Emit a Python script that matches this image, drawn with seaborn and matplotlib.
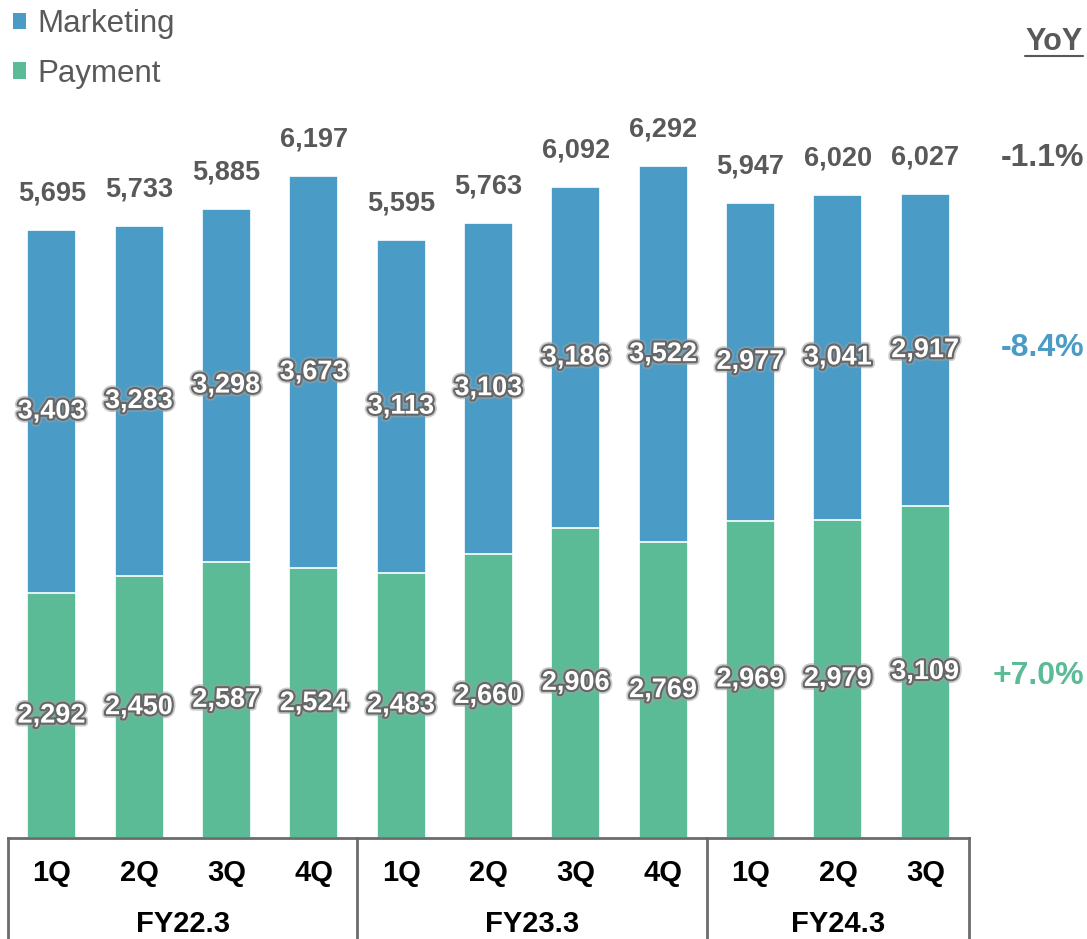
import matplotlib
matplotlib.use("Agg")
import matplotlib.pyplot as plt
import matplotlib.patheffects as pe
from matplotlib.patches import Patch
import seaborn as sns
import pandas as pd

# Quarterly revenue by segment
fiscal_years = ["FY22.3", "FY23.3", "FY24.3"]
quarters = ["1Q", "2Q", "3Q", "4Q", "1Q", "2Q", "3Q", "4Q", "1Q", "2Q", "3Q"]
year_of_quarter = ["FY22.3"] * 4 + ["FY23.3"] * 4 + ["FY24.3"] * 3
total = [5695, 5733, 5885, 6197, 5595, 5763, 6092, 6292, 5947, 6020, 6027]
marketing = [3403, 3283, 3298, 3673, 3113, 3103, 3186, 3522, 2977, 3041, 2917]
payment = [2292, 2450, 2587, 2524, 2483, 2660, 2906, 2769, 2969, 2979, 3109]
yoy_total = "-1.1%"
yoy_marketing = "-8.4%"
yoy_payment = "+7.0%"

BLUE = "#4A9CC7"
GREEN = "#5BBB97"
GREY = "#595959"

sns.set_style("white")
plt.rcParams["font.family"] = ["Liberation Sans", "DejaVu Sans"]

df = pd.DataFrame({
    "period": [f"{y} {q}" for y, q in zip(year_of_quarter, quarters)],
    "total": total,
    "marketing": marketing,
    "payment": payment,
})

fig = plt.figure(figsize=(10.87, 9.39), dpi=100)
ax = fig.add_axes([8 / 1087, 101 / 939, 961 / 1087, 747.6 / 939])

order = list(df["period"])
# Full stack height in blue, payment segment drawn over its lower part
sns.barplot(data=df, x="period", y="total", order=order, color=BLUE,
            saturation=1, width=0.56, edgecolor="white", linewidth=1.2, ax=ax)
sns.barplot(data=df, x="period", y="payment", order=order, color=GREEN,
            saturation=1, width=0.56, edgecolor="white", linewidth=1.2, ax=ax)

ax.set_xlim(-0.5, len(order) - 0.5)
ax.set_ylim(0, 7000)
ax.set_xlabel("")
ax.set_ylabel("")
ax.set_xticks([])
ax.set_yticks([])
for s in ax.spines.values():
    s.set_visible(False)

glow = [pe.Stroke(linewidth=5.5, foreground="#a0a0a0", alpha=0.55),
        pe.Stroke(linewidth=3, foreground="#666666"),
        pe.Normal()]

for i, row in df.iterrows():
    ax.text(i, row["payment"] / 2, f"{row['payment']:,}", ha="center", va="center",
            fontsize=19.5, fontweight="bold", color="white", path_effects=glow)
    ax.text(i, (row["payment"] + row["total"]) / 2, f"{row['marketing']:,}",
            ha="center", va="center", fontsize=19.5, fontweight="bold",
            color="white", path_effects=glow)
    ax.text(i, row["total"] + 220, f"{row['total']:,}", ha="center", va="bottom",
            fontsize=19.5, fontweight="bold", color=GREY)

# Category box below the bars
xt = ax.get_xaxis_transform()
line_kw = dict(color="#6b6b6b", linewidth=2, transform=xt, clip_on=False,
               solid_capstyle="projecting")
n = len(order)
ax.plot([-0.5, n - 0.5], [0, 0], **line_kw)
group_edges = [-0.5]
idx = 0
for fy in fiscal_years:
    count = year_of_quarter.count(fy)
    group_edges.append(idx + count - 0.5)
    ax.text(idx + (count - 1) / 2, -0.115, fy, transform=xt, ha="center",
            va="center", fontsize=21, fontweight="bold", color="black")
    idx += count
for e in group_edges:
    ax.plot([e, e], [0, -0.2], **line_kw)
for i, q in enumerate(quarters):
    ax.text(i, -0.047, q, transform=xt, ha="center", va="center",
            fontsize=21, fontweight="bold", color="black")

# Year-over-year change column
fig.text(1083 / 1087, 1 - 42 / 939, "YoY", ha="right", va="center",
         fontsize=22, fontweight="bold", color=GREY)
fig.add_artist(plt.Line2D([1025 / 1087, 1083 / 1087], [1 - 56 / 939, 1 - 56 / 939],
                          color=GREY, linewidth=1.5))
fig.text(1084 / 1087, 1 - 158 / 939, yoy_total, ha="right", va="center",
         fontsize=23, fontweight="bold", color=GREY)
fig.text(1084 / 1087, 1 - 348 / 939, yoy_marketing, ha="right", va="center",
         fontsize=23, fontweight="bold", color=BLUE)
fig.text(1084 / 1087, 1 - 676 / 939, yoy_payment, ha="right", va="center",
         fontsize=23, fontweight="bold", color=GREEN)

handles = [Patch(facecolor=BLUE, edgecolor="none", label="Marketing"),
           Patch(facecolor=GREEN, edgecolor="none", label="Payment")]
fig.legend(handles=handles, loc="upper left", bbox_to_anchor=(-0.014, 1.02),
           frameon=False, fontsize=22.5, labelcolor=GREY, handlelength=0.42,
           handleheight=0.42, handletextpad=0.35, labelspacing=0.62)

fig.savefig("out.png", dpi=100)
